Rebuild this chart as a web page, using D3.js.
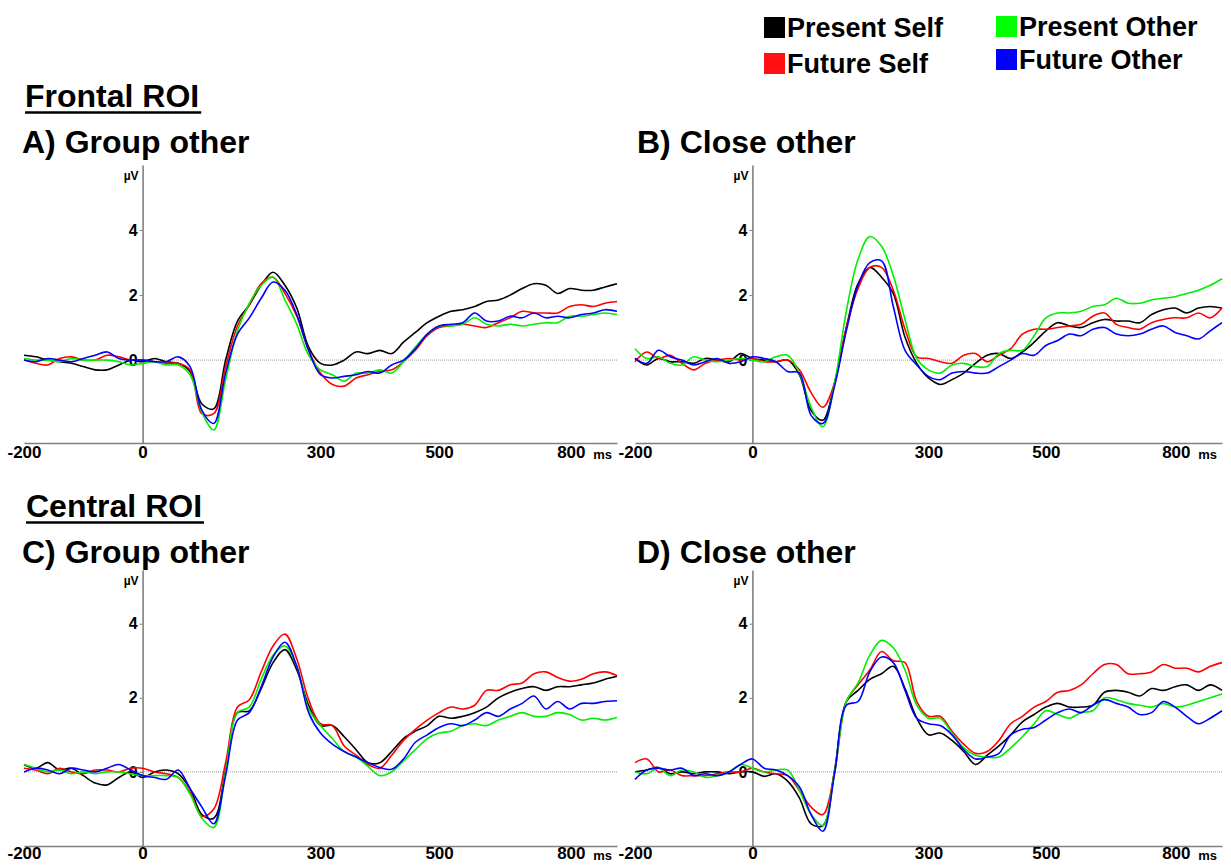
<!DOCTYPE html>
<html>
<head>
<meta charset="utf-8">
<script src="https://cdn.jsdelivr.net/npm/d3@7"></script>
<style>
    body { margin: 0; background: #fff; }
    svg { display: block; }
    text { font-family: "Liberation Sans", Arial, sans-serif; font-weight: bold; fill: #000; }
</style>
</head>
<body>
<svg id="erpChart" width="1231" height="865"></svg>
<script>
// time points in ms
const times = [-200, -180, -160, -140, -120, -100, -80, -60, -40, -20,
    0, 20, 40, 60, 80, 100, 120, 140, 160, 180,
    200, 220, 240, 260, 280, 300, 320, 340, 360, 380,
    400, 420, 440, 460, 480, 500, 520, 540, 560, 580,
    600, 620, 640, 660, 680, 700, 720, 740, 760, 780, 800];

const conditions = ['Present Self', 'Future Self', 'Present Other', 'Future Other'];
const xTicks = [-200, 0, 300, 500, 800];
const yTicks = [0, 2, 4];

// Frontal ROI, group other (µV)
const frontalGroupPresentSelf = [0.15, 0.1, 0.0, -0.05, -0.1, -0.2, -0.3, -0.3, -0.15, 0.0,
    -0.05, 0.05, -0.05, -0.1, -0.35, -1.35, -1.5, 0.0, 1.2, 1.7,
    2.3, 2.7, 2.3, 1.6, 0.4, -0.1, -0.15, 0.0, 0.25, 0.2,
    0.3, 0.2, 0.55, 0.85, 1.15, 1.35, 1.5, 1.55, 1.65, 1.8,
    1.85, 2.0, 2.2, 2.35, 2.3, 2.05, 2.2, 2.15, 2.15, 2.25, 2.35];
const frontalGroupFutureSelf = [0.0, -0.1, -0.15, 0.05, 0.1, 0.0, 0.0, 0.15, 0.1, 0.0,
    0.0, -0.05, -0.1, -0.1, -0.3, -1.65, -1.65, -0.2, 1.05, 1.7,
    2.35, 2.55, 2.05, 1.35, 0.3, -0.4, -0.75, -0.8, -0.55, -0.45,
    -0.35, -0.3, -0.05, 0.3, 0.75, 1.0, 1.05, 1.1, 1.05, 1.0,
    1.15, 1.3, 1.5, 1.45, 1.45, 1.45, 1.65, 1.7, 1.65, 1.75, 1.8];
const frontalGroupPresentOther = [0.05, 0.0, 0.0, -0.05, 0.05, 0.0, 0.0, 0.0, -0.05, -0.15,
    -0.1, -0.05, -0.15, -0.15, -0.45, -1.6, -2.15, -0.6, 0.9, 1.75,
    2.3, 2.55, 1.85, 1.1, 0.15, -0.3, -0.45, -0.65, -0.4, -0.4,
    -0.3, -0.4, -0.05, 0.4, 0.8, 1.05, 1.05, 1.1, 1.3, 1.1,
    1.05, 1.1, 1.05, 1.1, 1.15, 1.15, 1.35, 1.35, 1.4, 1.45, 1.4];
const frontalGroupFutureOther = [0.0, -0.05, 0.05, 0.0, -0.05, 0.05, 0.15, 0.25, 0.05, 0.0,
    0.0, -0.05, -0.05, 0.1, -0.2, -1.55, -1.95, -0.4, 0.8, 1.3,
    1.9, 2.4, 2.15, 1.4, 0.3, -0.45, -0.55, -0.5, -0.45, -0.35,
    -0.4, -0.15, 0.0, 0.35, 0.8, 1.05, 1.1, 1.15, 1.45, 1.2,
    1.2, 1.35, 1.3, 1.45, 1.3, 1.35, 1.3, 1.4, 1.45, 1.55, 1.5];

// Frontal ROI, close other
const frontalClosePresentSelf = [0.05, -0.15, 0.05, -0.05, -0.05, -0.1, 0.05, 0.0, -0.05, 0.2,
    0.05, 0.0, -0.05, 0.0, -0.45, -1.55, -1.85, -0.7, 1.0, 2.35,
    2.85, 2.55, 2.05, 0.7, -0.1, -0.55, -0.75, -0.6, -0.4, -0.1,
    0.15, 0.2, 0.05, 0.25, 0.55, 0.9, 1.15, 1.05, 1.0, 1.15,
    1.25, 1.2, 1.2, 1.15, 1.4, 1.55, 1.6, 1.45, 1.6, 1.65, 1.6];
const frontalCloseFutureSelf = [-0.05, 0.25, 0.05, 0.15, -0.1, -0.3, -0.1, 0.0, 0.05, 0.0,
    0.05, -0.05, -0.05, 0.0, -0.3, -1.0, -1.45, -0.7, 1.0, 2.2,
    2.85, 2.85, 2.15, 0.95, 0.1, 0.05, -0.05, -0.1, 0.15, 0.2,
    -0.05, 0.15, 0.35, 0.8, 0.95, 0.95, 1.0, 1.05, 1.1, 1.35,
    1.45, 1.1, 1.0, 0.95, 1.15, 1.25, 1.3, 1.3, 1.45, 1.3, 1.6];
const frontalClosePresentOther = [0.35, 0.05, 0.1, -0.1, -0.15, 0.1, 0.0, -0.05, 0.0, 0.05,
    0.0, -0.05, 0.1, 0.15, -0.4, -1.45, -2.05, -0.7, 1.5, 3.1,
    3.8, 3.5, 2.6, 1.25, 0.05, -0.3, -0.4, -0.15, -0.1, -0.2,
    -0.2, 0.2, 0.3, 0.3, 0.75, 1.3, 1.45, 1.45, 1.5, 1.65,
    1.7, 1.9, 1.75, 1.75, 1.85, 1.9, 1.95, 2.05, 2.15, 2.3, 2.5];
const frontalCloseFutureOther = [0.05, -0.1, 0.3, 0.1, 0.0, -0.15, -0.05, 0.05, -0.1, -0.05,
    0.1, 0.05, -0.05, -0.35, -0.4, -1.7, -1.95, -0.8, 0.9, 2.3,
    3.0, 3.05, 1.65, 0.3, -0.15, -0.5, -0.6, -0.4, -0.35, -0.4,
    -0.4, -0.2, 0.0, 0.2, 0.15, 0.45, 0.6, 0.8, 0.75, 0.95,
    1.0, 0.8, 0.75, 0.8, 0.95, 1.05, 0.85, 0.75, 0.65, 0.9, 1.15];

// Central ROI, group other
const centralGroupPresentSelf = [0.2, 0.1, 0.25, 0.05, 0.1, -0.1, -0.3, -0.35, -0.15, 0.0,
    -0.15, 0.0, 0.05, -0.05, -0.45, -1.15, -1.25, 0.05, 1.6, 1.65,
    2.25, 2.95, 3.3, 2.75, 1.8, 1.25, 1.25, 0.95, 0.6, 0.25,
    0.25, 0.55, 0.9, 1.1, 1.25, 1.5, 1.45, 1.5, 1.6, 1.75,
    2.0, 2.15, 2.25, 2.3, 2.2, 2.3, 2.3, 2.35, 2.4, 2.5, 2.58];
const centralGroupFutureSelf = [0.1, 0.05, -0.05, 0.1, 0.0, -0.05, 0.05, 0.05, 0.0, 0.1,
    0.1, 0.0, -0.05, -0.15, -0.55, -1.2, -1.0, 0.25, 1.75, 1.95,
    2.7, 3.4, 3.72, 3.05, 1.95, 1.3, 1.25, 0.7, 0.45, 0.2,
    0.1, 0.45, 0.85, 1.15, 1.4, 1.6, 1.75, 1.7, 1.8, 2.2,
    2.2, 2.35, 2.4, 2.65, 2.7, 2.55, 2.45, 2.5, 2.65, 2.7, 2.6];
const centralGroupPresentOther = [0.2, 0.1, 0.0, 0.05, -0.05, 0.0, -0.05, 0.0, 0.0, -0.05,
    -0.1, -0.1, -0.1, -0.15, -0.6, -1.25, -1.5, 0.0, 1.6, 1.75,
    2.5, 3.15, 3.4, 2.85, 1.7, 1.25, 0.9, 0.55, 0.4, 0.15,
    -0.1, 0.0, 0.3, 0.6, 0.9, 1.05, 1.1, 1.25, 1.3, 1.25,
    1.4, 1.5, 1.6, 1.5, 1.5, 1.6, 1.55, 1.4, 1.45, 1.4, 1.47];
const centralGroupFutureOther = [0.0, 0.1, 0.05, -0.05, 0.1, 0.05, 0.0, 0.1, 0.2, 0.05,
    -0.1, -0.15, -0.2, 0.05, -0.45, -0.95, -1.4, -0.1, 1.4, 1.6,
    2.3, 3.1, 3.5, 2.85, 1.6, 1.05, 0.75, 0.55, 0.4, 0.25,
    0.12, 0.07, 0.35, 0.8, 1.0, 1.2, 1.3, 1.25, 1.4, 1.6,
    1.5, 1.7, 1.85, 2.05, 1.7, 1.9, 1.7, 1.85, 1.85, 1.9, 1.92];

// Central ROI, close other
const centralClosePresentSelf = [0.0, 0.05, 0.12, -0.05, 0.0, -0.05, 0.0, 0.0, -0.05, 0.0,
    0.0, -0.12, -0.05, -0.25, -0.7, -1.4, -1.45, 0.05, 1.9, 2.2,
    2.5, 2.65, 2.85, 2.25, 1.45, 1.0, 1.05, 0.85, 0.55, 0.2,
    0.45, 0.7, 1.0, 1.35, 1.55, 1.75, 1.85, 1.75, 1.75, 1.8,
    2.15, 2.2, 2.15, 2.05, 2.25, 2.2, 2.3, 2.35, 2.2, 2.35, 2.2];
const centralCloseFutureSelf = [0.25, 0.35, 0.0, 0.05, -0.1, -0.1, -0.1, -0.05, 0.0, 0.0,
    0.1, 0.0, -0.05, -0.1, -0.5, -0.95, -1.15, 0.0, 1.9, 2.35,
    2.75, 3.25, 3.0, 2.95, 1.9, 1.5, 1.5, 1.1, 0.75, 0.5,
    0.55, 0.85, 1.3, 1.5, 1.75, 1.9, 2.15, 2.2, 2.35, 2.65,
    2.9, 2.9, 2.65, 2.65, 2.7, 2.9, 2.8, 2.8, 2.7, 2.85, 2.95];
const centralClosePresentOther = [0.0, -0.05, 0.1, -0.1, 0.05, 0.0, -0.15, -0.1, 0.0, 0.2,
    0.1, 0.0, 0.05, 0.05, -0.5, -1.15, -1.45, 0.0, 1.9, 2.4,
    3.15, 3.55, 3.35, 2.75, 1.8, 1.45, 1.45, 1.05, 0.65, 0.45,
    0.4, 0.4, 0.65, 0.95, 1.3, 1.65, 1.55, 1.45, 1.6, 1.65,
    2.0, 1.95, 1.85, 1.8, 1.75, 1.85, 1.75, 1.8, 1.9, 2.0, 2.1];
const centralCloseFutureOther = [-0.2, 0.05, 0.1, 0.05, 0.1, -0.1, -0.05, -0.1, 0.0, 0.2,
    0.35, 0.1, 0.05, -0.1, -0.4, -1.15, -1.6, -0.05, 1.8, 1.9,
    2.7, 3.1, 2.95, 2.2, 1.45, 1.3, 1.25, 1.0, 0.6, 0.35,
    0.4, 0.5, 1.0, 1.15, 1.2, 1.4, 1.6, 1.7, 1.6, 1.8,
    1.95, 1.85, 1.75, 1.55, 1.6, 1.9, 1.75, 1.5, 1.3, 1.45, 1.65];

const lineColors = ['#000000', '#ff0000', '#00ee00', '#0000ff'];
const legendColors = ['#000000', '#ff1010', '#00ff00', '#0000ff'];

const panels = [
    { title: 'A) Group other', series: [frontalGroupPresentSelf, frontalGroupFutureSelf, frontalGroupPresentOther, frontalGroupFutureOther],
      xRange: [24, 617], yRange: [443, 165], yDomain: [-2.55, 6.0], titleX: 22, titleY: 153, pad: 3 },
    { title: 'B) Close other', series: [frontalClosePresentSelf, frontalCloseFutureSelf, frontalClosePresentOther, frontalCloseFutureOther],
      xRange: [635, 1222], yRange: [443, 165], yDomain: [-2.55, 6.0], titleX: 637, titleY: 153, pad: 3 },
    { title: 'C) Group other', series: [centralGroupPresentSelf, centralGroupFutureSelf, centralGroupPresentOther, centralGroupFutureOther],
      xRange: [24, 617], yRange: [846, 570], yDomain: [-2.0, 5.45], titleX: 22, titleY: 563, pad: 1 },
    { title: 'D) Close other', series: [centralClosePresentSelf, centralCloseFutureSelf, centralClosePresentOther, centralCloseFutureOther],
      xRange: [635, 1222], yRange: [846, 570], yDomain: [-2.0, 5.45], titleX: 637, titleY: 563, pad: 1 }
];

const svg = d3.select('#erpChart');
svg.append('rect').attr('width', 1231).attr('height', 865).attr('fill', '#fff');

// ROI headings
[{ text: 'Frontal ROI', x: 25, y: 107 }, { text: 'Central ROI', x: 26, y: 517 }].forEach(h => {
    const t = svg.append('text')
        .attr('x', h.x)
        .attr('y', h.y)
        .style('font-size', '32px')
        .text(h.text);
    const w = t.node().getComputedTextLength();
    svg.append('line')
        .attr('x1', h.x).attr('x2', h.x + w + 2)
        .attr('y1', h.y + 5.5).attr('y2', h.y + 5.5)
        .attr('stroke', '#000')
        .attr('stroke-width', 2.5);
});

// Legend
const legendPos = [[764, 17], [764, 53], [996, 16], [996, 49]];
conditions.forEach((c, i) => {
    const [lx, ly] = legendPos[i];
    svg.append('rect')
        .attr('x', lx).attr('y', ly)
        .attr('width', 21).attr('height', 21)
        .attr('fill', legendColors[i]);
    svg.append('text')
        .attr('x', lx + 23)
        .attr('y', ly + 20)
        .style('font-size', '27px')
        .text(c);
});

function drawPanel(p) {
    const x = d3.scaleLinear().domain([-200, 800]).range(p.xRange);
    const y = d3.scaleLinear().domain(p.yDomain).range(p.yRange);
    const g = svg.append('g');

    g.append('text')
        .attr('x', p.titleX)
        .attr('y', p.titleY)
        .style('font-size', '32px')
        .text(p.title);

    // dotted zero line
    g.append('line')
        .attr('x1', x(-200)).attr('x2', x(800))
        .attr('y1', y(0)).attr('y2', y(0))
        .attr('stroke', '#999')
        .attr('stroke-width', 1)
        .attr('stroke-dasharray', '1,1');

    // X axis
    const xAxis = g.append('g')
        .attr('transform', `translate(0,${p.yRange[0]})`)
        .call(d3.axisBottom(x).tickValues(xTicks).tickFormat(d => String(d))
            .tickSize(0).tickSizeOuter(0).tickPadding(p.pad));
    xAxis.select('.domain').attr('stroke', '#808080').attr('stroke-width', 1.6);
    xAxis.selectAll('text')
        .style('font-size', '17px')
        .style('font-family', '"Liberation Sans", Arial, sans-serif')
        .style('font-weight', 'bold')
        .attr('fill', '#000');
    xAxis.selectAll('.tick')
        .filter(d => d === 800)
        .select('text')
        .attr('text-anchor', 'end')
        .attr('dx', -32);
    xAxis.append('text')
        .attr('x', x(800) - 5)
        .attr('y', p.pad + 13)
        .attr('text-anchor', 'end')
        .style('font-size', '13px')
        .text('ms');

    // Y axis
    const yAxis = g.append('g')
        .attr('transform', `translate(${x(0)},0)`)
        .call(d3.axisLeft(y).tickValues(yTicks).tickSize(3).tickSizeOuter(0).tickPadding(2));
    yAxis.select('.domain').attr('stroke', '#808080').attr('stroke-width', 1.6);
    yAxis.selectAll('.tick line').attr('stroke', '#808080');
    yAxis.selectAll('text')
        .style('font-size', '16px')
        .style('font-family', '"Liberation Sans", Arial, sans-serif')
        .style('font-weight', 'bold')
        .attr('fill', '#000');
    g.append('text')
        .attr('x', x(0) - 4)
        .attr('y', p.yRange[1] + 15)
        .attr('text-anchor', 'end')
        .style('font-size', '12px')
        .text('µV');

    // waveforms
    const line = d3.line()
        .x((d, i) => x(times[i]))
        .y(d => y(d))
        .curve(d3.curveCatmullRom.alpha(0.5));

    p.series.forEach((s, i) => {
        g.append('path')
            .datum(s)
            .attr('d', line)
            .attr('fill', 'none')
            .attr('stroke', lineColors[i])
            .attr('stroke-width', 1.6)
            .attr('stroke-linejoin', 'round');
    });
}

panels.forEach(drawPanel);
</script>
</body>
</html>
